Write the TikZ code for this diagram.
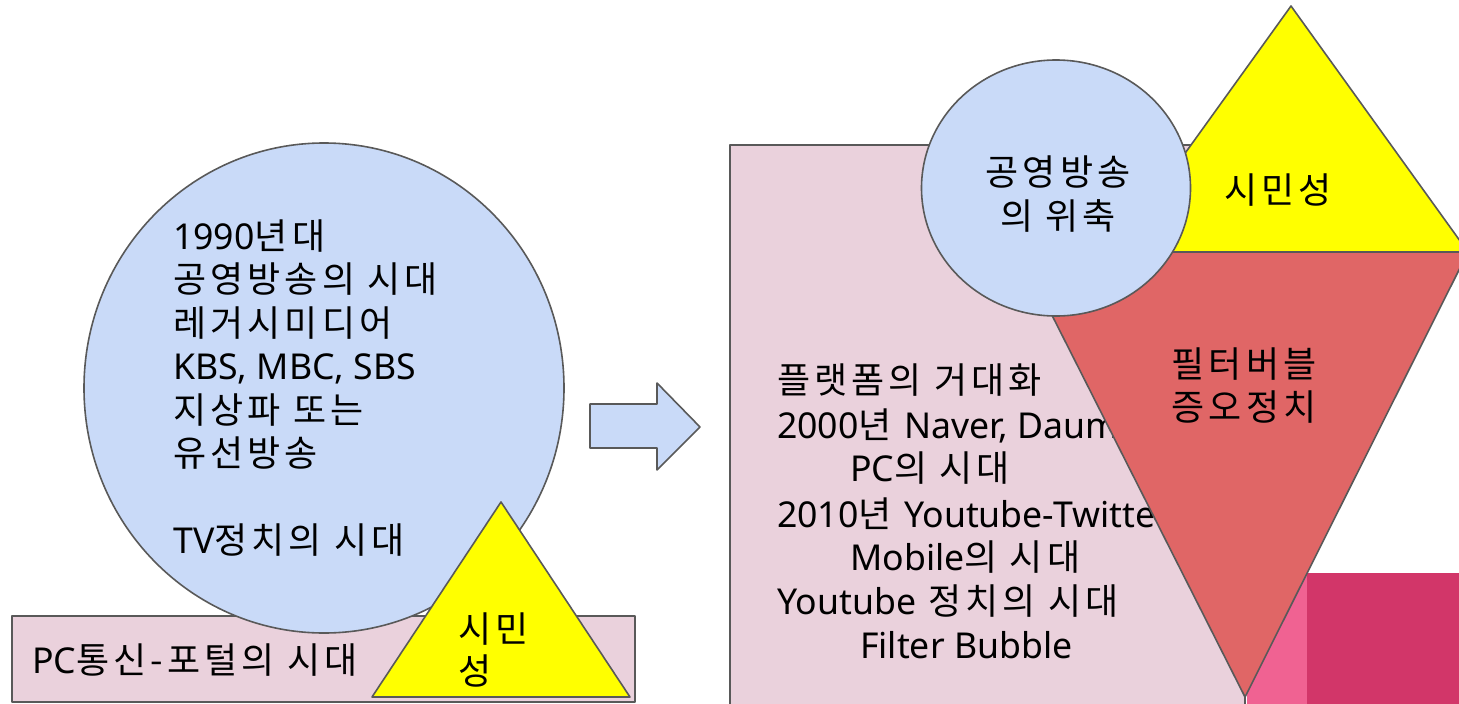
\documentclass[tikz,border=0pt]{standalone}
\usepackage{fontspec}
\setmainfont{Noto Sans CJK KR}[LetterSpace=11.5]
\newfontfamily\latf{Noto Sans}[Scale=0.99]
\newcommand\lt[1]{{\latf #1}}
\definecolor{lpink}{HTML}{EAD1DC}
\definecolor{lblue}{HTML}{C9DAF8}
\definecolor{ylw}{HTML}{FFFF00}
\definecolor{rd}{HTML}{E06666}
\definecolor{bpink}{HTML}{F06292}
\definecolor{crim}{HTML}{D23669}
\definecolor{edgec}{HTML}{595959}
\tikzset{
  shp/.style={draw=edgec, line width=1.6pt, line join=round},
  txt/.style={inner sep=0pt, font=\fontsize{36}{43}\selectfont, text=black, anchor=base west},
  ctxt/.style={txt, anchor=base}
}
\begin{document}
\begin{tikzpicture}[x=1pt,y=-1pt]
\useasboundingbox (0,0) rectangle (1459,704);
\clip (0,0) rectangle (1459,704);
% ---------- left ----------
\draw[shp, fill=lpink] (12,616) rectangle (635,702);
\draw[shp, fill=lblue] (324,388) ellipse [x radius=240, y radius=245];
\draw[shp, fill=ylw] (501,502) -- (630,697) -- (372,697) -- cycle;
\node[txt] (l1) at (173,249.5) {\lt{1990}년대};
\node[txt] (l2) at (173,292.9) {공영방송의 시대};
\node[txt] (l3) at (173,336.3) {레거시미디어};
\node[txt] (l4) at (173,379.7) {\lt{KBS, MBC, SBS}};
\node[txt] (l5) at (173,423.1) {지상파 또는};
\node[txt] (l6) at (173,466.5) {유선방송};
\node[txt] (l7) at (173,553.3) {\lt{TV}정치의 시대};
\node[txt] (pc) at (32,673.5) {\lt{PC}통신-포털의 시대};
\node[txt] (sm1) at (458,642.5) {시민};
\node[txt] (sm2) at (458,684.5) {성};
% ---------- arrow ----------
\draw[shp, fill=lblue] (590,404) -- (657,404) -- (657,383) -- (700,427) -- (657,470) -- (657,448) -- (590,448) -- cycle;
% ---------- right ----------
\draw[shp, fill=lpink] (730,145) rectangle (1245,720);
\fill[bpink] (1247,560) rectangle (1307,704);
\fill[crim] (1307,573) rectangle (1459,704);
\node[txt] (r1) at (777,393.5) {플랫폼의 거대화};
\node[txt] (r2) at (777,438) {\lt{2000}년 \lt{Naver, Daum}};
\node[txt] (r3) at (850,481.5) {\lt{PC}의 시대};
\node[txt] (r4) at (777,527) {\lt{2010}년 \lt{Youtube-Twitter}};
\node[txt] (r5) at (850,570) {\lt{Mobile}의 시대};
\node[txt] (r6) at (777,614) {\lt{Youtube} 정치의 시대};
\node[txt] (r7) at (860,658) {\lt{Filter Bubble}};
\draw[shp, fill=ylw] (1291,6) -- (1468,252) -- (1114,252) -- cycle;
\draw[shp, fill=rd] (1020,252) -- (1468,252) -- (1245,697) -- cycle;
\draw[shp, fill=lblue] (1056,188) ellipse [x radius=134.5, y radius=128];
\node[ctxt] (e1) at (1058,185.5) {공영방송};
\node[ctxt] (e2) at (1058,229.5) {의 위축};
\node[ctxt] (y1) at (1278,203.5) {시민성};
\node[ctxt] (f1) at (1244,377.5) {필터버블};
\node[ctxt] (f2) at (1244,420.5) {증오정치};
\end{tikzpicture}
\end{document}
